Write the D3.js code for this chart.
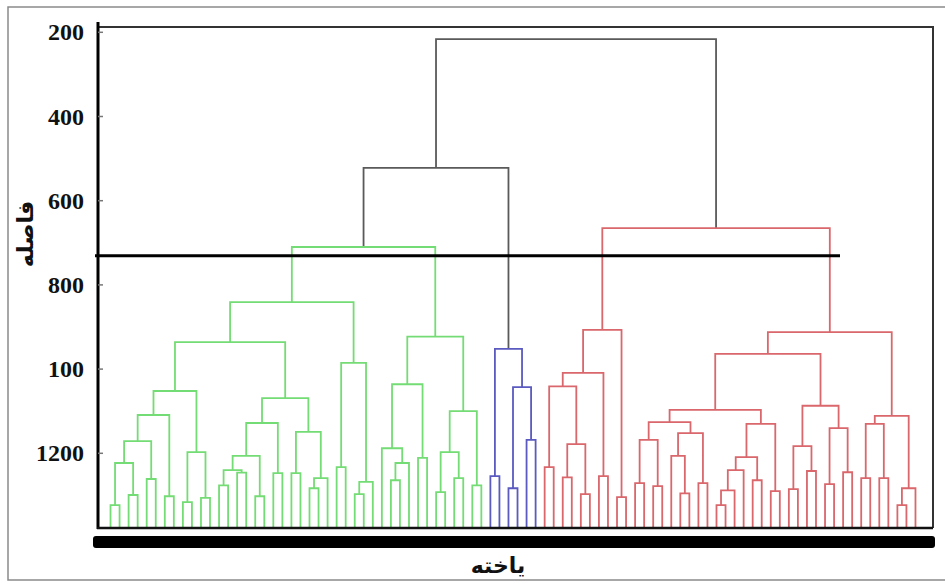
<!DOCTYPE html>
<html>
<head>
<meta charset="utf-8">
<script src="https://cdn.jsdelivr.net/npm/d3@7"></script>
<style>
  html, body { margin: 0; padding: 0; background: #fff; }
  svg { display: block; }
</style>
</head>
<body>
<svg id="chart" width="945" height="583"></svg>
<script>
// Dendrogram encoding: an internal node is [mergeHeight, left, right]; 0 is a leaf (one cell).
const greenTree = [710,
  [841,
    [936,
      [1052,
        [1109,
          [1171,
            [1223, [1323, 0, 0], [1299, 0, 0]],
            [1261, 0, 0]],
          [1302, 0, 0]],
        [1197, [1316, 0, 0], [1306, 0, 0]]],
      [1069,
        [1128,
          [1206,
            [1240, [1276, 0, 0], [1246, 0, 0]],
            [1302, 0, 0]],
          [1247, 0, 0]],
        [1149,
          [1247, 0, 0],
          [1259, [1283, 0, 0], 0]]]],
    [985,
      [1233, 0, 0],
      [1268, [1297, 0, 0], 0]]],
  [923,
    [1036,
      [1188, 0, [1223, [1264, 0, 0], 0]],
      [1211, 0, 0]],
    [1100,
      [1197, [1292, 0, 0], [1259, 0, 0]],
      [1276, 0, 0]]]];

const blueTree = [952,
  [1254, 0, 0],
  [1043, [1283, 0, 0], [1168, 0, 0]]];

const redTree = [665,
  [907,
    [1009,
      [1041,
        [1233, 0, 0],
        [1178, [1257, 0, 0], [1297, 0, 0]]],
      [1254, 0, 0]],
    [1304, 0, 0]],
  [912,
    [964,
      [1097,
        [1126,
          [1168, [1271, 0, 0], [1278, 0, 0]],
          [1152,
            [1206, 0, [1295, 0, 0]],
            [1271, 0, 0]]],
        [1130,
          [1209,
            [1240,
              [1288, [1323, 0, 0], 0],
              0],
            [1264, 0, 0]],
          [1290, 0, 0]]],
      [1087,
        [1183, [1285, 0, 0], [1242, 0, 0]],
        [1140, [1273, 0, 0], [1245, 0, 0]]]],
    [1111,
      [1130, [1259, 0, 0], [1259, 0, 0]],
      [1283, [1323, 0, 0], 0]]]];

// Merges above the cluster level
const rootHeight = 216;
const greenBlueHeight = 522;
const cutHeight = 731;

const clusterNames = ["green", "blue", "red"];
const clusterColors = ["#74dc74", "#5a5ac0", "#d9676c"];
const upperColor = "#5a5a5a";

const tickValues = [200, 400, 600, 800, 1000, 1200];
const tickLabels = ["200", "400", "600", "800", "100", "1200"];

const xTitle = "یاخته";
const yTitle = "فاصله";

// ---- build hierarchy ----
function toNode(a, color) {
  if (a === 0) return { leaf: true, color };
  return { height: a[0], color, children: [toNode(a[1], color), toNode(a[2], color)] };
}
const trees = [greenTree, blueTree, redTree];
const clusterNodes = trees.map((t, i) => toNode(t, clusterColors[i]));
const rootData = {
  height: rootHeight, color: upperColor,
  children: [
    { height: greenBlueHeight, color: upperColor, children: [clusterNodes[0], clusterNodes[1]] },
    clusterNodes[2]
  ]
};

const root = d3.hierarchy(rootData);
d3.cluster().size([1, 1]).separation(() => 1)(root);

// ---- layout ----
const plot = { left: 98, right: 933, top: 27, bottom: 528 };
const x = d3.scaleLinear().domain([0, 1]).range([106, 920]);
const y = d3.scaleLinear().domain([200, 1200]).range([32.3, 453.3]);
const yOf = d => d.data.leaf ? plot.bottom : y(d.data.height);

const svg = d3.select("#chart");

// outer border (right edge runs off the page)
svg.append("rect")
  .attr("x", 8).attr("y", 7).attr("width", 945).attr("height", 573)
  .attr("fill", "none").attr("stroke", "#8a8a8a").attr("stroke-width", 1.5);

// plot frame: top and right edges
svg.append("path")
  .attr("d", `M${plot.left},${plot.top}H${plot.right}V${plot.bottom}`)
  .attr("fill", "none").attr("stroke", "#333").attr("stroke-width", 2);

// dendrogram links: each internal node draws its U-shape in its own colour
const links = svg.append("g").attr("fill", "none").attr("stroke-width", 1.8);
root.descendants().filter(d => d.children).forEach(d => {
  const [a, b] = d.children;
  const yn = yOf(d);
  links.append("path")
    .attr("stroke", d.data.color)
    .attr("d", `M${x(a.x)},${yOf(a)}V${yn}H${x(b.x)}V${yOf(b)}`);
});

// cut line
svg.append("line")
  .attr("x1", 95).attr("x2", 840)
  .attr("y1", y(cutHeight)).attr("y2", y(cutHeight))
  .attr("stroke", "#000").attr("stroke-width", 3);

// left axis
svg.append("line")
  .attr("x1", plot.left).attr("x2", plot.left)
  .attr("y1", 22).attr("y2", plot.bottom + 1)
  .attr("stroke", "#000").attr("stroke-width", 3);
const ticks = svg.append("g");
tickValues.forEach((v, i) => {
  ticks.append("line")
    .attr("x1", plot.left).attr("x2", plot.left + 5)
    .attr("y1", y(v)).attr("y2", y(v))
    .attr("stroke", "#777").attr("stroke-width", 1.5);
  ticks.append("text")
    .attr("x", 84).attr("y", y(v))
    .attr("text-anchor", "end").attr("dominant-baseline", "central")
    .attr("font-family", "Liberation Serif, Times New Roman, serif")
    .attr("font-weight", "bold").attr("font-size", 24)
    .attr("fill", "#111")
    .text(tickLabels[i]);
});

// bottom axis line
svg.append("line")
  .attr("x1", plot.left - 1).attr("x2", plot.right)
  .attr("y1", plot.bottom).attr("y2", plot.bottom)
  .attr("stroke", "#111").attr("stroke-width", 2.5);

// thick leaf-label bar under the axis
svg.append("rect")
  .attr("x", 93).attr("y", 536).attr("width", 842).attr("height", 12)
  .attr("rx", 3).attr("fill", "#000");

// titles
svg.append("text")
  .attr("x", 498).attr("y", 565)
  .attr("text-anchor", "middle").attr("dominant-baseline", "central")
  .attr("font-family", "DejaVu Sans, sans-serif").attr("font-weight", "bold")
  .attr("font-size", 22).attr("fill", "#111")
  .text(xTitle);
svg.append("text")
  .attr("transform", `translate(25,234) rotate(-90)`)
  .attr("text-anchor", "middle").attr("dominant-baseline", "central")
  .attr("font-family", "DejaVu Sans, sans-serif").attr("font-weight", "bold")
  .attr("font-size", 22).attr("fill", "#111")
  .text(yTitle);
</script>
</body>
</html>
